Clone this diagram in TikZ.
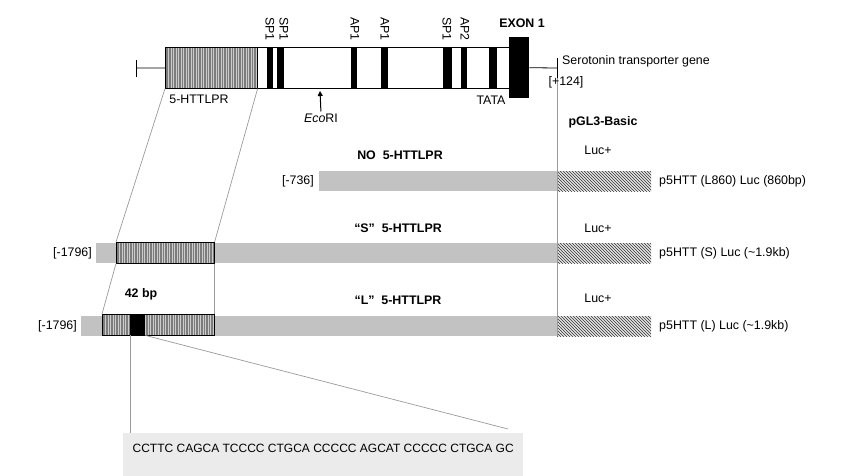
\documentclass[tikz,border=0pt]{standalone}
\usepackage{fontspec}
\setmainfont{Liberation Sans}
\usetikzlibrary{arrows.meta,patterns}
\definecolor{bargray}{HTML}{C2C2C2}
\definecolor{stripegray}{HTML}{7C7C7C}
\definecolor{linegray}{HTML}{9A9A9A}
\definecolor{seqgray}{HTML}{EBEBEB}

\begin{document}
\begin{tikzpicture}[x=1pt, y=-1pt,
  font=\fontsize{12.4}{14}\selectfont,
  every node/.style={inner sep=0pt},
  genebox/.style={draw, line width=0.8pt, fill=white, anchor=north west,
               minimum width=344pt, minimum height=41pt},
  stripebox/.style={draw, line width=0.6pt, fill=stripegray, anchor=north west,
               minimum height=#1,
               path picture={
                 \foreach \s in {3,5.5,...,120}
                   \draw[gray!40, line width=0.45pt]
                     ([xshift=\s pt]path picture bounding box.south west) --
                     ([xshift=\s pt]path picture bounding box.north west);
               }},
  site/.style={fill=black, anchor=north west, minimum height=41pt, minimum width=#1},
  bar/.style={fill=bargray, anchor=north west, minimum height=20pt, minimum width=#1},
  luc/.style={preaction={fill=gray!20}, pattern=north west lines, pattern color=black!80,
              anchor=north west, minimum height=20pt, minimum width=94pt},
  title/.style={font=\fontsize{12.4}{14}\selectfont\bfseries},
  vlab/.style={rotate=-90, anchor=west},
  zoomline/.style={linegray, line width=0.7pt},
  seqbox/.style={fill=seqgray, anchor=north west, minimum width=400pt,
                 font=\fontsize{12}{14}\selectfont,
                 inner ysep=3pt, text height=16.5pt, text depth=20pt}
]
\useasboundingbox (0,0) rectangle (842,475);

% gene on top
\node[genebox] (gene) at (165,47) {};
\node[stripebox=41pt, minimum width=92pt] (vntr) at (165,47) {};
\node[site=6pt] (sp1a) at (267,47) {};
\node[site=7pt] (sp1b) at (277,47) {};
\node[site=6pt] (ap1a) at (351,47) {};
\node[site=7pt] (ap1b) at (381,47) {};
\node[site=9pt] (sp1c) at (443,47) {};
\node[site=6pt] (ap2) at (461,47) {};
\node[site=8pt] (tata) at (489,47) {};
\node[site=20pt, minimum height=61pt] (exon) at (509,37) {};
\coordinate (start) at (136,68);
\coordinate (endg) at (557,68);
\coordinate (endlow) at (557,78);
\draw[line width=0.8pt] (start) -- (gene.west);
\draw[line width=0.8pt] ([yshift=8pt]start) -- ([yshift=-9pt]start);
\draw[line width=0.8pt] (exon.east) -- (endg);

\node[vlab] at (270,17) {SP1};
\node[vlab] at (284,17) {SP1};
\node[vlab] at (355,17) {AP1};
\node[vlab] at (385,17) {AP1};
\node[vlab] at (447,17) {SP1};
\node[vlab] at (465,17) {AP2};
\node[title] (exonlab) at (522,23) {EXON 1};
\node[anchor=west] (genelab) at (562,61) {Serotonin transporter gene};
\node (tatalab) at (491,100) {TATA};
\node (vntrlab) at (199,99) {5-HTTLPR};
\node (eco) at (321,118) {\textit{Eco}RI};
\coordinate (ecotip) at (320,91);
\draw[-{Triangle[length=5pt,width=5pt]}, line width=1pt, shorten <=2pt] (eco.north) -- (ecotip);

% construct rows
\node[title] (pgl) at (603,122) {pGL3-Basic};
\node[bar=238pt] (nobar) at (319,171) {};
\node[luc] (noluc) at (557,171) {};
\node[bar=461pt] (sbar) at (96,243) {};
\node[luc] (sluc) at (557,243) {};
\node[bar=476pt] (lbar) at (81,316) {};
\node[luc] (lluc) at (557,316) {};
\node[stripebox=21pt, minimum width=98pt] (svntr) at (116,242) {};
\node[stripebox=21pt, minimum width=112pt] (lvntr) at (102,314) {};
\node[site=15pt, minimum height=21pt] (rep) at (130,314) {};

\draw[zoomline] (endlow) -- (lluc.south west);
\draw[line width=0.8pt] ([yshift=10pt]endg) -- ([yshift=-10pt]endg);
\node (pluslab) at (566,82) {[+124]};

\node[title] (notitle) at (400,155) {NO\ \ 5-HTTLPR};
\node[title] (stitle) at (398,228) {“S”\ \ 5-HTTLPR};
\node[title] (ltitle) at (398,300) {“L”\ \ 5-HTTLPR};
\node (noluclab) at (598,150) {Luc+};
\node (sluclab) at (598,228) {Luc+};
\node (lluclab) at (598,298) {Luc+};
\node[anchor=east] (nostart) at (314,181) {[-736]};
\node[anchor=east] (sstart) at (92,253) {[-1796]};
\node[anchor=east] (lstart) at (77,326) {[-1796]};
\node[anchor=west] (nolab) at (659,181) {p5HTT (L860) Luc (860bp)};
\node[anchor=west] (slab) at (659,253) {p5HTT (S) Luc (\textasciitilde1.9kb)};
\node[anchor=west] (llab) at (659,326) {p5HTT (L) Luc (\textasciitilde1.9kb)};
\node[title] (bplab) at (141,294) {42 bp};

% zoom lines
\draw[zoomline] (vntr.south west) -- (svntr.north west);
\draw[zoomline] (vntr.south east) -- (svntr.north east);
\draw[zoomline] (svntr.south west) -- (lvntr.north west);
\draw[zoomline] (svntr.south east) -- (lvntr.north east);

% repeat sequence
\node[seqbox] (seq) at (123,433) {CCTTC CAGCA TCCCC CTGCA CCCCC AGCAT CCCCC CTGCA GC};
\coordinate (seqleft) at (130,433);
\coordinate (seqright) at (508,429);
\draw[zoomline] (rep.south west) -- (seqleft);
\draw[zoomline] (rep.south east) -- (seqright);
\end{tikzpicture}
\end{document}
